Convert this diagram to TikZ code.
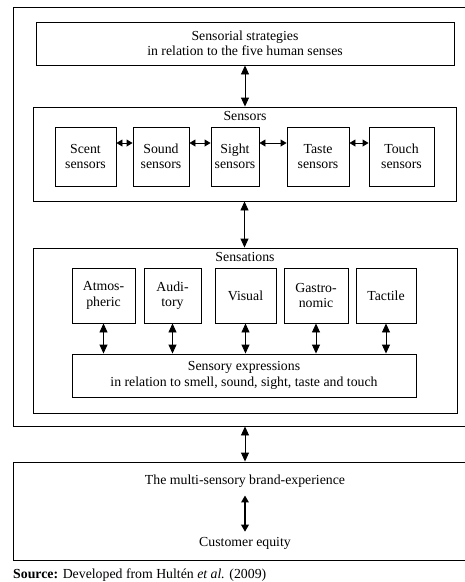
\documentclass[tikz,border=0pt]{standalone}
\usepackage{fontspec}
\setmainfont{Liberation Serif}
\usetikzlibrary{arrows.meta}
\newcommand\diagfont{\fontsize{13.8}{15.5}\selectfont}
\begin{document}
\begin{tikzpicture}[x=1pt,y=-1pt,
  box/.style={draw, line width=0.9pt, inner sep=0pt, align=center, font=\diagfont},
  txt/.style={inner sep=2pt, align=center, font=\diagfont},
  vdbl/.style={{Triangle[width=8pt,length=9pt]}-{Triangle[width=8pt,length=9pt]}, line width=0.9pt},
  hdbl/.style={{Triangle[width=7pt,length=6pt]}-{Triangle[width=7pt,length=6pt]}, line width=0.9pt},
  bolddbl/.style={{Triangle[width=7.5pt,length=7pt]}-{Triangle[width=7.5pt,length=7pt]}, line width=2.4pt}]
\useasboundingbox (0,0) rectangle (464,582);

% enclosing frame of the sensory marketing model
\node[box, minimum width=453pt, minimum height=419pt] (outer) at (239.5,216.5) {};

% strategies
\node[box, minimum width=418pt, minimum height=43pt] (strat) at (245,43.5)
  {Sensorial strategies\\in relation to the five human senses};

% sensors
\node[box, minimum width=423pt, minimum height=94pt] (sensors) at (244.5,154) {};
\node[txt] (sensorslbl) at (245,116) {Sensors};
\node[box, minimum width=61pt, minimum height=59pt] (scent) at (85.5,156.5) {Scent\\sensors};
\node[box, minimum width=56pt, minimum height=59pt] (sound) at (161,156.5) {Sound\\sensors};
\node[box, minimum width=48pt, minimum height=59pt] (sight) at (235,156.5) {Sight\\sensors};
\node[box, minimum width=62pt, minimum height=59pt] (taste) at (318,156.5) {Taste\\sensors};
\node[box, minimum width=65pt, minimum height=59pt] (touch) at (401.5,156.5) {Touch\\sensors};

\draw[hdbl] ([yshift=13.5pt]scent.east) -- ([yshift=13.5pt]sound.west);
\draw[hdbl] ([yshift=13.5pt]sound.east) -- ([yshift=13.5pt]sight.west);
\draw[hdbl] ([yshift=13.5pt]sight.east) -- ([yshift=13.5pt]taste.west);
\draw[hdbl] ([yshift=13.5pt]taste.east) -- ([yshift=13.5pt]touch.west);

% sensations
\node[box, minimum width=424pt, minimum height=165pt] (sensations) at (245,330.5) {};
\node[txt] (sensationslbl) at (245,257) {Sensations};
\node[box, minimum width=63pt, minimum height=55pt] (atmo) at (103.5,295.5) {Atmos-\\pheric};
\node[box, minimum width=57pt, minimum height=55pt] (audi) at (172.5,295.5) {Audi-\\tory};
\node[box, minimum width=61pt, minimum height=55pt] (visu) at (245.5,295.5) {Visual};
\node[box, minimum width=64pt, minimum height=55pt] (gast) at (316,295.5) {Gastro-\\nomic};
\node[box, minimum width=60pt, minimum height=55pt] (tact) at (386,295.5) {Tactile};
\node[box, minimum width=344pt, minimum height=43pt] (expr) at (244,375.5)
  {Sensory expressions\\in relation to smell, sound, sight, taste and touch};

\foreach \n in {atmo,audi,visu,gast,tact}
  \draw[vdbl] (\n.south) -- (\n.south |- expr.north);

% links between the levels
\draw[vdbl] (strat.south) -- (strat.south |- sensors.north);
\draw[vdbl] (sensors.south) -- (sensors.south |- sensations.north);

% brand experience
\node[box, minimum width=453pt, minimum height=98pt] (brand) at (239.5,511) {};
\node[txt] (bexp) at (245,481) {The multi-sensory brand-experience};
\node[txt] (ceq) at (245,543) {Customer equity};
\draw[bolddbl] ([yshift=-6pt]bexp.south) -- ([yshift=3pt]ceq.north);
\draw[vdbl] (outer.south -| strat.south) -- (brand.north -| strat.south);

% source line
\node[txt, anchor=west, inner sep=0pt] (src) at (13,575)
  {\textbf{Source:} Developed from Hultén \textit{et al.} (2009)};
\end{tikzpicture}
\end{document}
